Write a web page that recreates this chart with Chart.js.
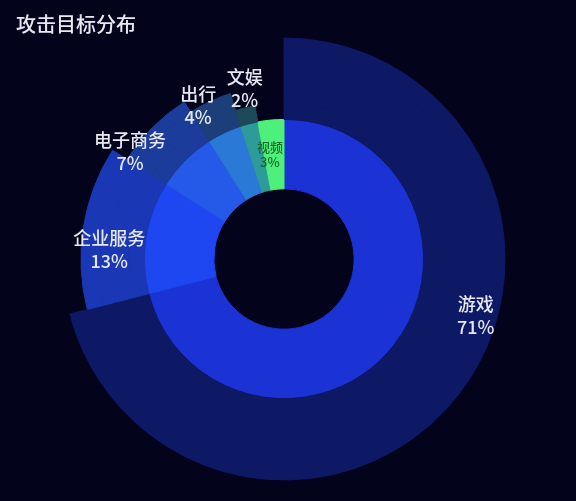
<!DOCTYPE html>
<html>
<head>
<meta charset="utf-8">
<script src="https://cdn.jsdelivr.net/npm/chart.js@4/dist/chart.umd.min.js"></script>
<style>
  html, body { margin: 0; padding: 0; background: #03031b; }
  #wrap { width: 576px; height: 501px; }
</style>
</head>
<body>
<div id="wrap"><canvas id="grfc-alvo"></canvas></div>
<script>
// dados
const categories = ['游戏', '企业服务', '电子商务', '出行', '文娱', '视频'];
const shares = [71, 13, 7, 4, 2, 3];

// cores
const innerColors = ['#1b32d5', '#1e47f1', '#2559e8', '#2b79d6', '#2d9c99', '#4cf07b'];
const outerColors = ['#0e1966', '#1a38b6', '#1c3c9c', '#1c3f7a', '#1d4a5b', 'transparent'];

// raio externo de cada fatia (px) e do anel interno
const outerReach = [221, 203, 186, 174, 156, 0];
const ringEdge = 139.5;
const holeRadius = 70;

// posicao dos rotulos: desvio do angulo medio (graus) e raio (px)
const labelShift = [-21.3, -6, -10, -4, 1.4, -2.3];
const labelRadius = [200, 175, 188, 176, 175, 105];

// monta os aneis externos em faixas
let edges = [...new Set(outerReach.filter(r => r > ringEdge))].sort((a, b) => b - a);
edges.push(ringEdge);

let datasets = [];
for (let k = 0; k < edges.length - 1; k++) {
  let cores = outerColors.map((c, i) => outerReach[i] >= edges[k] ? c : 'transparent');
  datasets.push({
    data: shares,
    backgroundColor: cores,
    borderColor: cores,
    borderWidth: 1,
    weight: edges[k] - edges[k + 1]
  });
}
datasets.push({
  data: shares,
  backgroundColor: innerColors,
  borderColor: innerColors,
  borderWidth: 1,
  weight: ringEdge - holeRadius
});

const rotulos = {
  id: 'rotulos',
  afterDatasetsDraw(chart) {
    const ctx = chart.ctx;
    const meta = chart.getDatasetMeta(chart.data.datasets.length - 1);
    meta.data.forEach((arc, i) => {
      const p = arc.getProps(['x', 'y', 'startAngle', 'endAngle']);
      const a = (p.startAngle + p.endAngle) / 2 + labelShift[i] * Math.PI / 180;
      const x = p.x + labelRadius[i] * Math.cos(a);
      const y = p.y + labelRadius[i] * Math.sin(a);
      const pequeno = i == 5;
      const size = pequeno ? 13 : 18;
      const gap = pequeno ? 7.5 : 11.5;
      ctx.save();
      ctx.textAlign = 'center';
      ctx.textBaseline = 'middle';
      ctx.fillStyle = pequeno ? '#156a2e' : '#e6e7f0';
      ctx.font = '500 ' + size + 'px "Noto Sans CJK SC", "Noto Sans", sans-serif';
      ctx.fillText(categories[i], x, y - gap);
      ctx.fillText(shares[i] + '%', x, y + gap);
      ctx.restore();
    });
  }
};

let ctx1 = document.getElementById('grfc-alvo');
new Chart(ctx1, {
  type: 'doughnut',
  data: {
    labels: categories,
    datasets: datasets
  },
  options: {
    responsive: true,
    maintainAspectRatio: false,
    animation: false,
    events: [],
    radius: 221,
    cutout: holeRadius,
    layout: {
      padding: { left: 16, right: 24, top: 0, bottom: 21 }
    },
    plugins: {
      legend: { display: false },
      tooltip: { enabled: false },
      title: {
        display: true,
        text: '攻击目标分布',
        align: 'start',
        color: '#e8e9f0',
        font: { size: 20, family: '"Noto Sans CJK SC", sans-serif', weight: 500 },
        padding: { top: 12, bottom: 2 }
      }
    }
  },
  plugins: [rotulos]
});
</script>
</body>
</html>
